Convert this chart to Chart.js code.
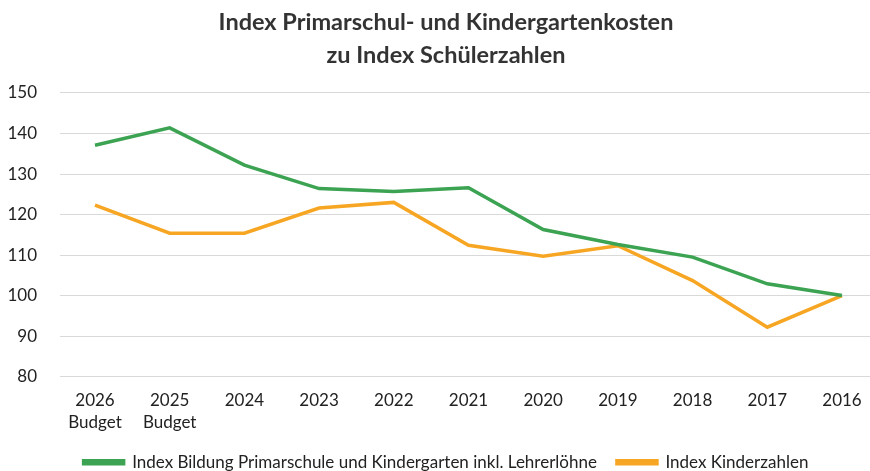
<!DOCTYPE html>
<html>
<head>
<meta charset="utf-8">
<script src="https://cdn.jsdelivr.net/npm/chart.js@4"></script>
<style>
  html, body { margin: 0; padding: 0; background: #fff; }
  #wrap { width: 870px; height: 471px; }
</style>
</head>
<body>
<div id="wrap"><canvas id="chart"></canvas></div>
<script>
const years = ['2026', '2025', '2024', '2023', '2022', '2021', '2020', '2019', '2018', '2017', '2016'];
const subLabels = ['Budget', 'Budget', '', '', '', '', '', '', '', '', ''];
const bildungIndex = [137.1, 141.4, 132.2, 126.4, 125.7, 126.6, 116.3, 112.6, 109.5, 102.9, 100];
const kinderIndex = [122.3, 115.4, 115.4, 121.6, 123.0, 112.4, 109.7, 112.3, 103.7, 92.2, 100];
const yTicks = [80, 90, 100, 110, 120, 130, 140, 150];

const fontFamily = 'Lato, "Open Sans", sans-serif';

const toPoints = values => values.map((v, i) => ({ x: i, y: v }));

new Chart(document.getElementById('chart'), {
    type: 'line',
    data: {
        datasets: [{
            label: 'Index Bildung Primarschule und Kindergarten inkl. Lehrerlöhne',
            data: toPoints(bildungIndex),
            borderColor: '#3ba352',
            backgroundColor: '#3ba352',
            borderWidth: 3.5,
            pointRadius: 0,
            tension: 0
        }, {
            label: 'Index Kinderzahlen',
            data: toPoints(kinderIndex),
            borderColor: '#f7a623',
            backgroundColor: '#f7a623',
            borderWidth: 3.5,
            pointRadius: 0,
            tension: 0
        }]
    },
    options: {
        responsive: true,
        maintainAspectRatio: false,
        animation: false,
        // negative right padding shifts the centred title/legend to the right like the scan
        layout: { padding: { left: 8, right: -14, top: 5.5, bottom: -9.8 } },
        plugins: {
            title: {
                display: true,
                text: ['Index Primarschul- und Kindergartenkosten', 'zu Index Schülerzahlen'],
                color: '#333',
                font: { family: fontFamily, size: 23.5, weight: 'bold', lineHeight: 1.404 },
                padding: { top: 0, bottom: 21.5 }
            },
            legend: {
                position: 'bottom',
                labels: {
                    color: '#222',
                    font: { family: fontFamily, size: 17 },
                    boxWidth: 40,
                    boxHeight: 3,
                    padding: 20
                }
            },
            tooltip: { enabled: false }
        },
        scales: {
            x: {
                type: 'linear',
                min: -0.4685,
                max: 10.375,
                afterBuildTicks: scale => {
                    scale.ticks = years.map((_, i) => ({ value: i }));
                },
                afterFit: scale => { scale.height = 57.2; },
                ticks: {
                    autoSkip: false,
                    maxRotation: 0,
                    padding: 5,
                    color: '#222',
                    font: { family: fontFamily, size: 17, lineHeight: 1.3 },
                    callback: value => subLabels[value] ? [years[value], subLabels[value]] : years[value]
                },
                grid: { display: false },
                border: { display: false }
            },
            y: {
                min: 80,
                max: 150,
                afterBuildTicks: scale => {
                    scale.ticks = yTicks.map(v => ({ value: v }));
                },
                afterFit: scale => { scale.width = 52; },
                ticks: {
                    color: '#222',
                    padding: 23,
                    font: { family: fontFamily, size: 17 }
                },
                grid: { color: '#d9d9d9', drawTicks: false },
                border: { display: false }
            }
        }
    }
});
</script>
</body>
</html>
